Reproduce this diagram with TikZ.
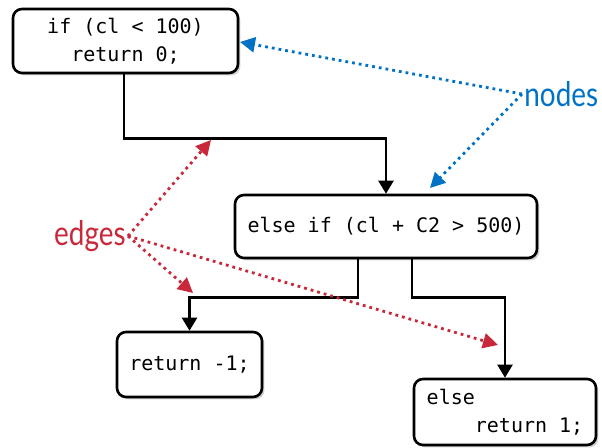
\documentclass[tikz,border=0pt]{standalone}
\usepackage{fontspec}
\newfontfamily\codefont{DejaVu Sans Mono}
\newfontfamily\labelfont{Lato}
\usetikzlibrary{arrows.meta,shadows,calc}
\definecolor{annred}{HTML}{C8283A}
\definecolor{annblue}{HTML}{0072C6}
\begin{document}
\begin{tikzpicture}[x=0.5pt,y=-0.5pt,
  codebox/.style={draw=black,line width=1.3pt,rounded corners=4.5pt,fill=white,
    drop shadow={shadow xshift=1.2pt,shadow yshift=-1.2pt,opacity=0.35},
    font=\codefont\fontsize{10}{14.2}\selectfont,inner sep=0pt},
  flow/.style={line width=1.2pt,-{Triangle[length=6.5pt,width=7.5pt]}},
  annot/.style={line width=1.4pt,dotted,-{Triangle[length=7.5pt,width=7.5pt]}},
  annlabel/.style={font=\labelfont\fontsize{17}{20}\selectfont,inner sep=1pt}]
\useasboundingbox (0,0) rectangle (602,447);
\node[codebox,minimum width=225*0.5pt,minimum height=64*0.5pt,align=center] (b1) at (125.5,41) {if (cl < 100)\\return 0;};
\node[codebox,minimum width=302*0.5pt,minimum height=63*0.5pt] (b2) at (386,226.5) {else if (cl + C2 > 500)};
\node[codebox,minimum width=145*0.5pt,minimum height=65*0.5pt] (b3) at (189.5,364.5) {return -1;};
\node[codebox,minimum width=182*0.5pt,minimum height=66*0.5pt,align=left] (b4) at (505,412) {else\\\phantom{else}return 1;};
\draw[flow] ($(b1.south)+(-1.5,0)$) -- ++(0,64) -| (b2.north);
\draw[flow] ($(b2.south)+(-28,0)$) -- ++(0,38) -| (b3.north);
\draw[flow] ($(b2.south)+(26,0)$) -- ++(0,38) -| (b4.north);
\node[annlabel,text=annblue,anchor=west] (nodes) at (522,94) {\scalebox{0.82}[1]{nodes}};
\node[annlabel,text=annred,anchor=east] (edges) at (128,236) {\scalebox{0.82}[1]{edges}};
\coordinate (nb1) at (240,42);
\coordinate (nb2) at (430,188);
\coordinate (ee1) at (211,140);
\coordinate (ee2) at (193,293);
\coordinate (ee3) at (498,345);
\draw[annot,annblue] (nodes.west) -- (nb1);
\draw[annot,annblue] (nodes.west) -- (nb2);
\draw[annot,annred] (edges.east) -- (ee1);
\draw[annot,annred] (edges.east) -- (ee2);
\draw[annot,annred] (edges.east) -- (ee3);
\end{tikzpicture}
\end{document}
